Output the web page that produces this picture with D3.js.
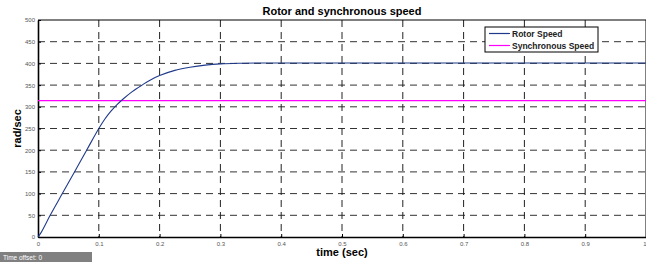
<!DOCTYPE html>
<html>
<head>
<meta charset="utf-8">
<script src="https://cdn.jsdelivr.net/npm/d3@7"></script>
<style>
  body { margin: 0; background: #fff; }
  svg { display: block; font-family: Arial, "Liberation Sans", Helvetica, sans-serif; }
</style>
</head>
<body>
<div id="chart"></div>
<script>
// chart size
let svgWidth = 646;
let svgHeight = 265;
let margin = { top: 20, right: 0, bottom: 28, left: 38 };

// data
let timeVals = [0, 0.005, 0.02, 0.04, 0.06, 0.08, 0.1, 0.11, 0.12, 0.13, 0.14, 0.155, 0.171, 0.185, 0.2, 0.225, 0.25, 0.275, 0.3, 0.33, 0.37, 0.45, 0.5, 0.6, 0.7, 0.8, 0.9, 1.0];
let rotorSpeed = [0, 10, 50, 100, 150, 200, 250, 272, 290, 305, 318, 335, 350, 362, 372, 384, 391, 396, 399, 400.5, 401, 401, 401, 401, 401, 401, 401, 401];
let syncSpeed = 314.16;
let xTicks = [0, 0.1, 0.2, 0.3, 0.4, 0.5, 0.6, 0.7, 0.8, 0.9, 1];
let yTicks = [0, 50, 100, 150, 200, 250, 300, 350, 400, 450, 500];
let legendNames = ["Rotor Speed", "Synchronous Speed"];
let legendColors = ["#1f3a8a", "#ff00ff"];

let svg = d3.select("#chart")
  .append("svg")
  .attr("width", svgWidth)
  .attr("height", svgHeight);

let width = svgWidth - margin.left - margin.right;
let height = svgHeight - margin.top - margin.bottom;

let chartGroup = svg.append("g")
  .attr("transform", `translate(${margin.left}, ${margin.top})`);

let x = d3.scaleLinear().domain([0, 1]).range([0, width]);
let y = d3.scaleLinear().domain([0, 500]).range([height, 0]);

// grid
chartGroup.selectAll(".hgrid")
  .data(yTicks.slice(1, -1))
  .enter()
  .append("line")
  .attr("x1", 0).attr("x2", width)
  .attr("y1", d => y(d)).attr("y2", d => y(d))
  .attr("stroke", "#333")
  .attr("stroke-dasharray", "7,5");

chartGroup.selectAll(".vgrid")
  .data(xTicks.slice(1, -1))
  .enter()
  .append("line")
  .attr("x1", d => x(d)).attr("x2", d => x(d))
  .attr("y1", 0).attr("y2", height)
  .attr("stroke", "#222")
  .attr("stroke-dasharray", "7,5");

// axes (ticks inside, like matlab)
let xAxis = chartGroup.append("g")
  .attr("transform", `translate(0,${height})`)
  .call(d3.axisBottom(x).tickValues(xTicks).tickSizeInner(-3).tickSizeOuter(0).tickPadding(5).tickFormat(d => d3.format("")(d)));
let yAxis = chartGroup.append("g")
  .call(d3.axisLeft(y).tickValues(yTicks).tickSizeInner(-3).tickSizeOuter(0).tickPadding(3));

[xAxis, yAxis].forEach(g => {
  g.select(".domain").attr("stroke", "#000").attr("stroke-width", 1.6);
  g.selectAll("text").attr("font-size", 6).attr("fill", "#555");
});
// last x label sits on the window edge
xAxis.selectAll(".tick text").filter(d => d === 1).attr("text-anchor", "end");

// top and right border
chartGroup.append("line")
  .attr("x1", 0).attr("x2", width).attr("y1", 0).attr("y2", 0)
  .attr("stroke", "#000").attr("stroke-width", 1);
chartGroup.append("line")
  .attr("x1", width).attr("x2", width).attr("y1", 0).attr("y2", height)
  .attr("stroke", "#000").attr("stroke-width", 1);

// synchronous speed
chartGroup.append("line")
  .attr("x1", x(0)).attr("x2", x(1))
  .attr("y1", y(syncSpeed)).attr("y2", y(syncSpeed))
  .attr("stroke", legendColors[1])
  .attr("stroke-width", 1.3);

// rotor speed
let rotorData = timeVals.map((t, i) => ({ t: t, v: rotorSpeed[i] }));
chartGroup.append("path")
  .datum(rotorData)
  .attr("fill", "none")
  .attr("stroke", legendColors[0])
  .attr("stroke-width", 1.1)
  .attr("d", d3.line().x(d => x(d.t)).y(d => y(d.v)).curve(d3.curveCatmullRom.alpha(0.5)));

// legend
let legend = svg.append("g").attr("transform", "translate(485,27)");
legend.append("rect")
  .attr("width", 113).attr("height", 25)
  .attr("fill", "#fff").attr("stroke", "#000").attr("stroke-width", 1);
legendNames.forEach((name, i) => {
  legend.append("line")
    .attr("x1", 4).attr("x2", 25)
    .attr("y1", 6.5 + i * 12).attr("y2", 6.5 + i * 12)
    .attr("stroke", legendColors[i]).attr("stroke-width", 1.2);
  legend.append("text")
    .attr("x", 27).attr("y", 9.5 + i * 12)
    .attr("font-size", 8.5).attr("font-weight", "bold")
    .attr("fill", "#222")
    .text(name);
});

// titles
svg.append("text")
  .attr("x", margin.left + width / 2).attr("y", 15)
  .attr("text-anchor", "middle")
  .attr("font-size", 11).attr("font-weight", "bold")
  .text("Rotor and synchronous speed");

svg.append("text")
  .attr("x", margin.left + width / 2).attr("y", 256)
  .attr("text-anchor", "middle")
  .attr("font-size", 11).attr("font-weight", "bold")
  .text("time (sec)");

svg.append("text")
  .attr("transform", `translate(21,${margin.top + height / 2}) rotate(-90)`)
  .attr("text-anchor", "middle")
  .attr("font-size", 11).attr("font-weight", "bold")
  .text("rad/sec");

// time offset box
svg.append("rect")
  .attr("x", 0).attr("y", 252).attr("width", 92).attr("height", 10)
  .attr("fill", "#808080");
svg.append("text")
  .attr("x", 3).attr("y", 259.5)
  .attr("font-size", 6.5).attr("fill", "#fff")
  .text("Time offset:  0");
</script>
</body>
</html>
